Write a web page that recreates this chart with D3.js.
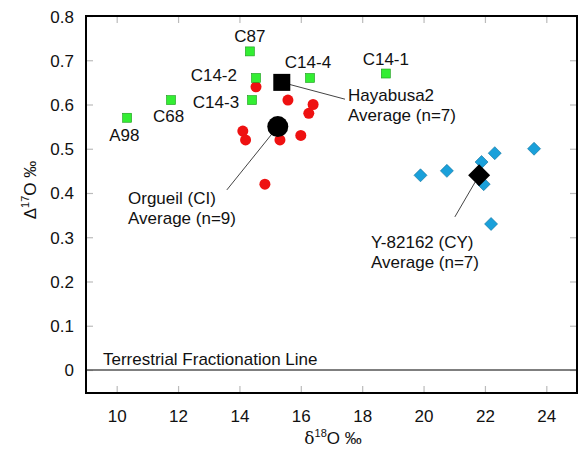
<!DOCTYPE html>
<html>
<head>
<meta charset="utf-8">
<script src="https://cdn.jsdelivr.net/npm/d3@7"></script>
<style>
  html, body { margin: 0; padding: 0; background: #fff; overflow: hidden; }
  svg { display: block; font-family: "Liberation Sans", Arial, sans-serif; }
</style>
</head>
<body><svg width="584" height="450"></svg><script>
// hayabusa2 samples (green squares)
let hayaNames = ["C87", "C14-2", "C14-3", "C14-4", "C14-1", "C68", "A98"];
let hayaX = [14.34, 14.54, 14.41, 16.3, 18.77, 11.77, 10.34];
let hayaY = [0.72, 0.66, 0.61, 0.66, 0.67, 0.61, 0.57];

// Orgueil (red circles)
let orgX = [14.54, 15.58, 16.26, 16.4, 14.11, 14.2, 15.32, 16.0, 14.83];
let orgY = [0.64, 0.61, 0.58, 0.60, 0.54, 0.52, 0.52, 0.53, 0.42];

// Y-82162 (blue diamonds)
let yamX = [19.9, 20.76, 21.89, 22.32, 23.6, 21.96, 22.2];
let yamY = [0.44, 0.45, 0.47, 0.49, 0.50, 0.42, 0.33];

// averages
let avgNames = ["Hayabusa2", "Orgueil (CI)", "Y-82162 (CY)"];
let avgX = [15.38, 15.25, 21.81];
let avgY = [0.65, 0.55, 0.44];

let xTicks = [10, 12, 14, 16, 18, 20, 22, 24];
let yTicks = [0, 0.1, 0.2, 0.3, 0.4, 0.5, 0.6, 0.7, 0.8];

const svg = d3.select('svg');
const margin = { top: 16, right: 7, bottom: 57, left: 86 };
const innerWidth = 584 - margin.left - margin.right;
const innerHeight = 450 - margin.top - margin.bottom;
const fs = 17;

const xScale = d3.scaleLinear().domain([9, 25]).range([0, innerWidth]);
const yScale = d3.scaleLinear().domain([-0.052, 0.8]).range([innerHeight, 0]);

const g = svg.append('g').attr('transform', `translate(${margin.left},${margin.top})`);

// axes with inward ticks (mirrored on top and right, no labels there)
const fmt = d => d === 0 ? "0" : d3.format(".1f")(d);
g.append('g').attr('transform', `translate(0,${innerHeight})`)
  .call(d3.axisBottom(xScale).tickValues(xTicks).tickSize(-7))
  .call(a => a.select('.domain').remove())
  .call(a => a.selectAll('text').attr('dy', null).attr('y', 29));
g.append('g')
  .call(d3.axisTop(xScale).tickValues(xTicks).tickSize(-7))
  .call(a => { a.select('.domain').remove(); a.selectAll('text').remove(); });
g.append('g')
  .call(d3.axisLeft(yScale).tickValues(yTicks).tickSize(-7).tickPadding(12).tickFormat(fmt))
  .call(a => a.select('.domain').remove())
  .call(a => a.selectAll('text').attr('dy', null).attr('y', 6));
g.append('g').attr('transform', `translate(${innerWidth},0)`)
  .call(d3.axisRight(yScale).tickValues(yTicks).tickSize(-7))
  .call(a => { a.select('.domain').remove(); a.selectAll('text').remove(); });
g.selectAll('.tick line').attr('stroke', '#bbb').attr('stroke-width', 1.2);
g.selectAll('.tick text').attr('font-size', fs).attr('fill', '#111')
  .attr('font-family', '"Liberation Sans", Arial, sans-serif');

// terrestrial fractionation line
g.append('line')
  .attr('x1', 0).attr('x2', innerWidth)
  .attr('y1', yScale(0)).attr('y2', yScale(0))
  .attr('stroke', '#555').attr('stroke-width', 1.3);
g.append('text').attr('x', 17).attr('y', yScale(0) - 5)
  .attr('font-size', fs).attr('fill', '#111').text('Terrestrial Fractionation Line');

// leader lines
let leaders = [
  [avgX[0], avgY[0], 17.44, 0.612],
  [avgX[1], avgY[1], 13.59, 0.407],
  [avgX[2], avgY[2], 21.02, 0.346]
];
g.selectAll('.leader').data(leaders).enter().append('line')
  .attr('x1', d => xScale(d[0])).attr('y1', d => yScale(d[1]))
  .attr('x2', d => xScale(d[2])).attr('y2', d => yScale(d[3]))
  .attr('stroke', '#444').attr('stroke-width', 1);

// red circles
g.selectAll('.org').data(orgX).enter().append('circle')
  .attr('cx', d => xScale(d)).attr('cy', (d, i) => yScale(orgY[i]))
  .attr('r', 5.5).attr('fill', '#ee1111');

// green squares
const sq = 9;
g.selectAll('.haya').data(hayaX).enter().append('rect')
  .attr('x', d => xScale(d) - sq / 2).attr('y', (d, i) => yScale(hayaY[i]) - sq / 2)
  .attr('width', sq).attr('height', sq)
  .attr('fill', '#33ee33').attr('stroke', '#1a9a1a').attr('stroke-width', 0.6);

// blue diamonds
const dm = 6.5;
const diamond = (cx, cy, r) => `M${cx},${cy - r}L${cx + r},${cy}L${cx},${cy + r}L${cx - r},${cy}Z`;
g.selectAll('.yam').data(yamX).enter().append('path')
  .attr('d', (d, i) => diamond(xScale(d), yScale(yamY[i]), dm))
  .attr('fill', '#1aa0da').attr('stroke', '#0b6e9a').attr('stroke-width', 0.6);

// averages
const bs = 17;
g.append('rect')
  .attr('x', xScale(avgX[0]) - bs / 2).attr('y', yScale(avgY[0]) - bs / 2)
  .attr('width', bs).attr('height', bs).attr('fill', '#000');
g.append('circle')
  .attr('cx', xScale(avgX[1])).attr('cy', yScale(avgY[1])).attr('r', 10.5).attr('fill', '#000');
g.append('path')
  .attr('d', diamond(xScale(avgX[2]), yScale(avgY[2]), 11)).attr('fill', '#000');

// sample labels
let hayaLabelPos = [
  [14.34, 0.741, 'middle'],
  [13.92, 0.653, 'end'],
  [13.99, 0.592, 'end'],
  [15.48, 0.682, 'start'],
  [18.77, 0.689, 'middle'],
  [11.69, 0.560, 'middle'],
  [10.25, 0.518, 'middle']
];
g.selectAll('.hlab').data(hayaNames).enter().append('text')
  .attr('x', (d, i) => xScale(hayaLabelPos[i][0]))
  .attr('y', (d, i) => yScale(hayaLabelPos[i][1]))
  .attr('text-anchor', (d, i) => hayaLabelPos[i][2])
  .attr('font-size', fs).attr('fill', '#111').text(d => d);

// average labels
let avgLabelPos = [[17.54, 0.608], [10.37, 0.375], [18.29, 0.276]];
avgNames.forEach((name, i) => {
  const t = g.append('text').attr('font-size', fs).attr('fill', '#111')
    .attr('x', xScale(avgLabelPos[i][0])).attr('y', yScale(avgLabelPos[i][1]));
  t.append('tspan').text(name);
  t.append('tspan').attr('x', xScale(avgLabelPos[i][0])).attr('dy', 20).text(i === 1 ? 'Average (n=9)' : 'Average (n=7)');
});

// frame
g.append('rect').attr('width', innerWidth).attr('height', innerHeight)
  .attr('fill', 'none').attr('stroke', '#000').attr('stroke-width', 2);

// axis labels
const xl = svg.append('text').attr('x', 333).attr('y', 444)
  .attr('text-anchor', 'middle').attr('font-size', fs).attr('fill', '#111');
xl.append('tspan').text('δ').attr('font-family', '"DejaVu Serif", serif');
xl.append('tspan').text('18').attr('font-size', 11).attr('dy', -7);
xl.append('tspan').text('O ‰').attr('dy', 7);

const yl = svg.append('text').attr('transform', 'translate(36,190) rotate(-90)')
  .attr('text-anchor', 'middle').attr('font-size', fs).attr('fill', '#111');
yl.append('tspan').text('Δ');
yl.append('tspan').text('17').attr('font-size', 11).attr('dy', -7);
yl.append('tspan').text('O ‰').attr('dy', 7);
</script></body>
</html>
